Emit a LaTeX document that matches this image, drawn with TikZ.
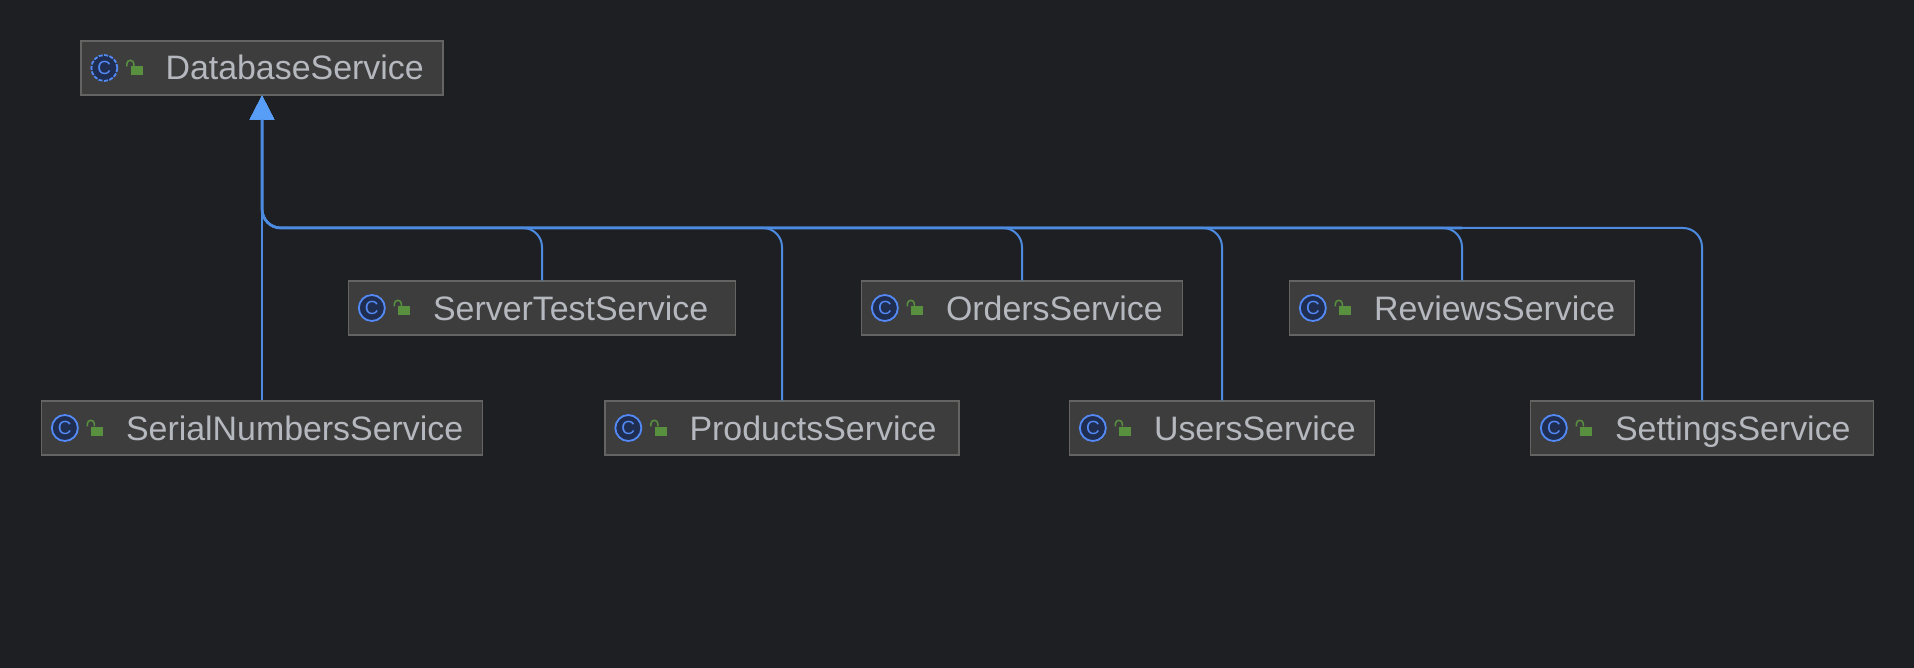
\documentclass[tikz,border=0pt]{standalone}
\usepackage{fontspec}
\setmainfont{Liberation Sans}
\usetikzlibrary{arrows.meta}
\definecolor{bgdark}{HTML}{1E1F22}
\definecolor{boxfill}{HTML}{3D3D3D}
\definecolor{boxline}{HTML}{646462}
\definecolor{nametext}{HTML}{B5B8BE}
\definecolor{linkblue}{HTML}{4C8BE0}
\definecolor{tipblue}{HTML}{589DF6}
\definecolor{iconblue}{HTML}{548AF7}
\definecolor{iconfill}{HTML}{1F2E50}
\definecolor{lockgreen}{HTML}{59903F}
\tikzset{
  classbox/.style = {rectangle, draw=boxline, fill=boxfill, line width=1.3pt,
                     minimum height=54pt, inner sep=0pt},
  classicon/.style = {circle, draw=iconblue, fill=iconfill, line width=1.8pt,
                      minimum size=26pt, inner sep=0pt, text=iconblue,
                      font=\fontsize{19}{19}\selectfont},
  lockbody/.style = {rectangle, fill=lockgreen, minimum width=12pt,
                     minimum height=9pt, inner sep=0pt, anchor=west},
  classname/.style = {anchor=base west, inner sep=0pt, text=nametext,
                      font=\fontsize{33.9}{40}\selectfont},
  inherit/.style = {linkblue, line width=2pt, rounded corners=19pt,
                    -{Triangle[length=24pt,width=24pt,color=tipblue]}},
  trunk/.style = {linkblue, line width=2.8pt, rounded corners=19pt}
}
% name, centre x, centre y, width, text, icon options
\newcommand{\classnode}[6]{
  \node[classbox,minimum width=#4pt] (#1) at (#2,#3) {};
  \node[classicon,xshift=24pt,#6] (#1c) at (#1.west) {C};
  \node[lockbody,xshift=50pt,yshift=-3pt] (#1l) at (#1.west) {};
  \draw[lockgreen,line width=1.5pt] ([xshift=-3.5pt]#1l.north west)
    -- ++(0,-2.5) arc[start angle=180,end angle=360,radius=3.5] -- ++(0,2.5);
  \node[classname,xshift=85pt,yshift=-12pt] (#1t) at (#1.west) {#5};
}

\begin{document}
\begin{tikzpicture}[x=1pt,y=-1pt]
  \fill[bgdark] (0,0) rectangle (1914,668);
  \useasboundingbox (0,0) rectangle (1914,668);
  \coordinate (bus) at (262,228);

  \classnode{db}{262}{68}{362}{DatabaseService}{dashed,dash pattern=on 4pt off 1.5pt}
  \classnode{stest}{542}{308}{387}{ServerTestService}{}
  \classnode{orders}{1022}{308}{321}{OrdersService}{}
  \classnode{reviews}{1462}{308}{345}{ReviewsService}{}
  \classnode{serial}{262}{428}{441}{SerialNumbersService}{}
  \classnode{products}{782}{428}{354}{ProductsService}{}
  \classnode{users}{1222}{428}{305}{UsersService}{}
  \classnode{settings}{1702}{428}{343}{SettingsService}{}

  \draw[inherit] (serial.north) -- (db.south);
  \draw[inherit] (stest.north) |- (bus) -- (db.south);
  \draw[inherit] (products.north) |- (bus) -- (db.south);
  \draw[inherit] (orders.north) |- (bus) -- (db.south);
  \draw[inherit] (users.north) |- (bus) -- (db.south);
  \draw[inherit] (reviews.north) |- (bus) -- (db.south);
  \draw[inherit] (settings.north) |- (bus) -- (db.south);
  \draw[trunk] (reviews.north |- bus) -- (bus) -- ([yshift=-24pt]db.south);
\end{tikzpicture}
\end{document}
